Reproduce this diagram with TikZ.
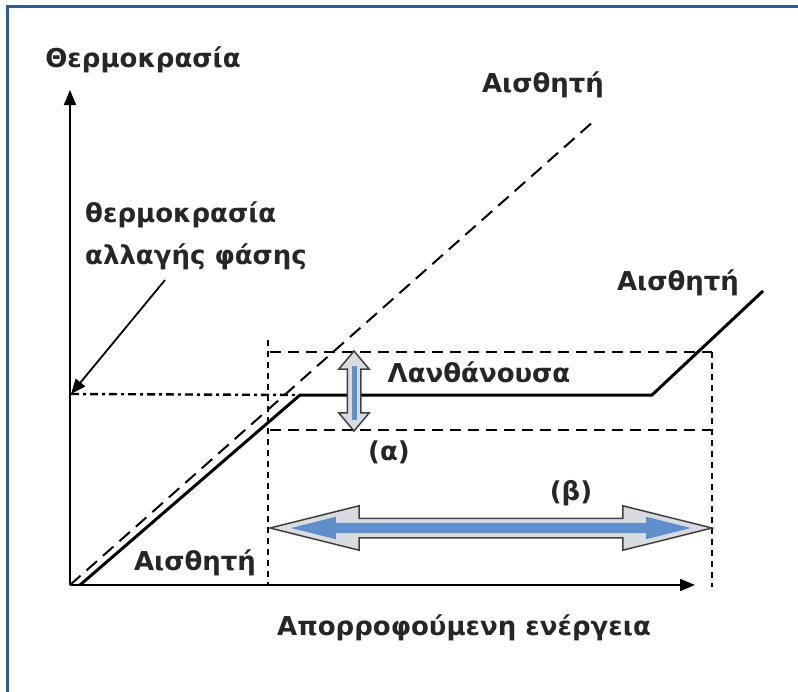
\documentclass[tikz,border=0pt]{standalone}
\usepackage{fontspec}
\setmainfont{DejaVu Sans}
\usetikzlibrary{arrows.meta,shapes.arrows}
\definecolor{frameblue}{HTML}{2F5E8E}
\definecolor{arrowblue}{HTML}{5F8FCB}
\definecolor{arrowgray}{HTML}{D8DBDF}
\begin{document}
\begin{tikzpicture}[x=1pt, y=-1pt, >={Triangle[length=15pt,width=12pt]},
	lbl/.style={font=\fontsize{26}{42}\selectfont\bfseries, text=black!85, inner sep=0pt},
	curve/.style={line width=3pt, line join=round},
	axis/.style={line width=2pt},
	guide/.style={line width=2.2pt, dash pattern=on 11pt off 7pt},
	vguide/.style={line width=2.8pt, dash pattern=on 6pt off 5pt},
	dblarrow/.style={double arrow, draw=black!75, fill=arrowgray, line width=1.5pt, inner xsep=0pt}]
					\useasboundingbox (0,0) rectangle (798,691);
					\clip (0,0) rectangle (798,691);
					\draw[frameblue, line width=3pt] (7,6) rectangle (830,720);
					\coordinate (O) at (70,585);
					\coordinate (ytop) at (70,90);
					\coordinate (xend) at (695,585);
					\coordinate (start) at (80,585);
					\coordinate (melt) at (300,395);
					\coordinate (done) at (652,395);
					\coordinate (last) at (763,291);
					\coordinate (tph) at (71,394);
					\coordinate (lead) at (165,280);
					\coordinate (ideal) at (595,120);
					\draw[axis, ->] (O) -- (ytop);
					\draw[axis, ->] (O) -- (xend);
					\draw[line width=2pt, dash pattern=on 14pt off 8pt] (O) -- (ideal);
					\draw[line width=2.4pt, dash pattern=on 8pt off 4pt on 3pt off 4pt] (tph) -- (melt);
					\draw[guide] (270,352) -- (712,352);
					\draw[guide] (270,430) -- (712,430);
					\draw[vguide] (268,340) -- (268,585);
					\draw[vguide] (712,352) -- (712,587);
					\draw[curve] (start) -- (melt) -- (done) -- (last);
					\draw[line width=1.8pt, ->] (lead) -- (tph);
					\node[dblarrow, rotate=90, minimum height=80pt, minimum width=29pt, inner ysep=6pt, double arrow head extend=8.5pt, double arrow tip angle=80] (alpha) at (354,391) {};
					\node[fill=arrowblue, minimum width=5pt, minimum height=54pt, inner sep=0pt] (alphacore) at (354,393) {};
					\node[dblarrow, minimum height=442pt, minimum width=43pt, inner ysep=9pt, double arrow head extend=12.5pt, double arrow tip angle=28] (beta) at (491,528) {};
					\node[double arrow, fill=arrowblue, minimum height=400pt, minimum width=22pt, inner sep=0pt, inner ysep=5pt, double arrow head extend=6pt, double arrow tip angle=28] (betacore) at (491,528) {};
					\node[lbl] (ylab) at (143,60) {Θερμοκρασία};
					\node[lbl, align=left, anchor=west] (phase) at (85,236) {θερμοκρασία\\αλλαγής φάσης};
					\node[lbl] (senstop) at (543,85) {Αισθητή};
					\node[lbl] (sensright) at (678,283) {Αισθητή};
					\node[lbl] (sensbot) at (195,563) {Αισθητή};
					\node[lbl] (latent) at (479,372) {Λανθάνουσα};
					\node[lbl] (alab) at (389,452) {(α)};
					\node[lbl] (blab) at (571,493) {(β)};
					\node[lbl] (xlab) at (464,628) {Απορροφούμενη ενέργεια};
				\end{tikzpicture}
\end{document}
